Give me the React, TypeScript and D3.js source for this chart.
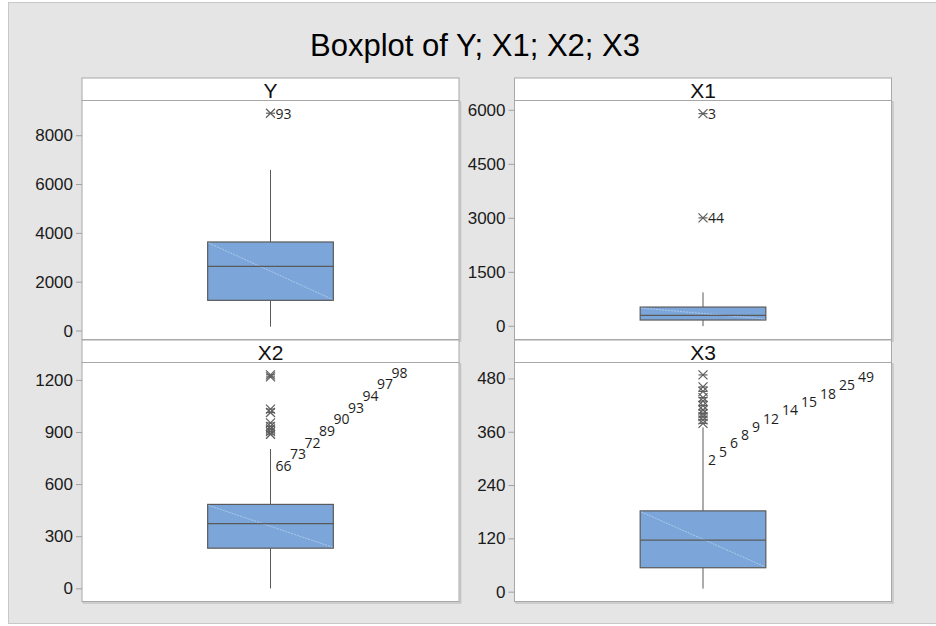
import React from 'react';
import * as d3 from 'd3';

// values (Minitab boxplot)
const variables = ['Y', 'X1', 'X2', 'X3'];
const q1Values = [1257, 175, 234, 55];
const medianValues = [2650, 305, 375, 117];
const q3Values = [3647, 535, 486, 183];
const whiskerLow = [177, 5, 2, 8];
const whiskerHigh = [6597, 943, 805, 371];
const outlierValues = [
  [8922],
  [5907, 3012],
  [890, 905, 920, 935, 955, 1015, 1035, 1220, 1232],
  [380, 388, 395, 402, 410, 420, 430, 438, 452, 462, 489],
];
const outlierLabels = [
  ['93'],
  ['3', '44'],
  ['66', '73', '72', '89', '90', '93', '94', '97', '98'],
  ['2', '5', '6', '8', '9', '12', '14', '15', '18', '25', '49'],
];
const tickValues = [
  [0, 2000, 4000, 6000, 8000],
  [0, 1500, 3000, 4500, 6000],
  [0, 300, 600, 900, 1200],
  [0, 120, 240, 360, 480],
];
const axisRanges = [
  [-348, 9443],
  [-366, 6272],
  [-73, 1303],
  [-21, 517],
];
// where crowded labels fan out (value of first / last label centre, gap in px)
const labelFans = [null, null, { from: 711, to: 1248, gap: -1.5 }, { from: 299, to: 485, gap: 3 }];

const W = 936;
const H = 626;
const colLeft = [82, 514.5];
const rowTop = [78, 340];
const panelW = 377;
const headerH = 22.5;
const panelH = 261.5;

const sans = '"Liberation Sans", Arial, sans-serif';
const labelFont = '"Open Sans", "Noto Sans", sans-serif';
const boxFill = '#7ca6d9';
const lineCol = '#5a5a5a';

const Star = ({ x, y }: { x: number; y: number }) => {
  const r = 4.5;
  return (
    <g stroke="#5e5e5e" strokeWidth={1.2}>
      <line x1={x - r} y1={y - r} x2={x + r} y2={y + r} />
      <line x1={x - r} y1={y + r} x2={x + r} y2={y - r} />
      <line x1={x - r} y1={y} x2={x + r} y2={y} />
    </g>
  );
};

const Panel = ({ i }: { i: number }) => {
  const left = colLeft[i % 2];
  const top = rowTop[Math.floor(i / 2)];
  const plotTop = top + headerH;
  const plotBottom = top + panelH;

  const y = d3.scaleLinear().domain(axisRanges[i]).range([plotBottom, plotTop]);
  const x = d3.scaleBand().domain([variables[i]]).range([left, left + panelW]).padding(0.5);
  const bx = x(variables[i]) as number;
  const bw = x.bandwidth();
  const cx = bx + bw / 2;

  const fan = labelFans[i];
  const labels = outlierLabels[i];
  let labelPos: { x: number; y: number }[];
  if (fan) {
    const yFan = d3.scaleLinear().domain([0, labels.length - 1]).range([y(fan.from), y(fan.to)]);
    let cursor = cx + 5;
    labelPos = labels.map((t, k) => {
      const p = { x: cursor, y: yFan(k) };
      cursor += t.length * 8 + fan.gap;
      return p;
    });
  } else {
    labelPos = outlierValues[i].map((v) => ({ x: cx + 5, y: y(v) }));
  }

  return (
    <g>
      {/* header strip */}
      <rect x={left} y={top} width={panelW} height={headerH} fill="#fff" stroke="#a8a8a8" />
      <text x={left + panelW / 2} y={top + headerH / 2 + 1} textAnchor="middle" dominantBaseline="central"
        fontFamily={sans} fontSize={21} fill="#111">{variables[i]}</text>
      {/* plot area */}
      <rect x={left + 1.5} y={plotTop + 1.5} width={panelW} height={panelH - headerH} fill="none" stroke="#c4c4c4" strokeWidth={1.5} />
      <rect x={left} y={plotTop} width={panelW} height={panelH - headerH} fill="#fff" stroke="#a8a8a8" />
      {/* axis */}
      {tickValues[i].map((t) => (
        <g key={t}>
          <line x1={left - 6} x2={left} y1={y(t)} y2={y(t)} stroke="#a0a0a0" />
          <text x={left - 9} y={y(t)} textAnchor="end" dominantBaseline="central" fontFamily={sans} fontSize={17} fill="#1a1a1a">{t}</text>
        </g>
      ))}
      {/* whiskers */}
      <line x1={cx} x2={cx} y1={y(q3Values[i])} y2={y(whiskerHigh[i])} stroke={lineCol} />
      <line x1={cx} x2={cx} y1={y(q1Values[i])} y2={y(whiskerLow[i])} stroke={lineCol} />
      {/* box */}
      <rect x={bx} y={y(q3Values[i])} width={bw} height={y(q1Values[i]) - y(q3Values[i])} fill={boxFill} stroke={lineCol} strokeWidth={1.2} />
      <line x1={bx + 1} y1={y(q3Values[i]) + 1} x2={bx + bw - 1} y2={y(q1Values[i]) - 1} stroke="#b9d0ee" strokeWidth={0.8} strokeDasharray="2,1" />
      <line x1={bx} x2={bx + bw} y1={y(medianValues[i])} y2={y(medianValues[i])} stroke={lineCol} strokeWidth={1.2} />
      {/* outliers */}
      {outlierValues[i].map((v, k) => (
        <Star key={k} x={cx} y={y(v)} />
      ))}
      {labels.map((t, k) => (
        <text key={k} x={labelPos[k].x} y={labelPos[k].y} dominantBaseline="central" fontFamily={labelFont} fontSize={14} fill="#1e1e1e">{t}</text>
      ))}
    </g>
  );
};

export default function App() {
  return (
    <svg width={W} height={H} style={{ position: 'absolute', left: 0, top: 0 }}>
      <rect x={0} y={0} width={W} height={H} fill="#fff" />
      <rect x={8.5} y={2.5} width={W} height={621} fill="#e5e5e5" stroke="#c8c8c8" />
      <text x={475} y={45} textAnchor="middle" dominantBaseline="central" fontFamily={sans} fontSize={31} fill="#000">
        Boxplot of Y; X1; X2; X3
      </text>
      {variables.map((_, i) => (
        <Panel key={i} i={i} />
      ))}
    </svg>
  );
}
